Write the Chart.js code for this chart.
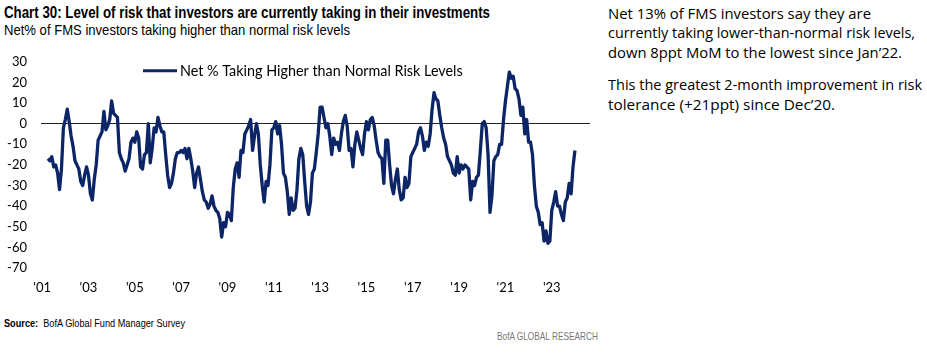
<!DOCTYPE html>
<html>
<head>
<meta charset="utf-8">
<script src="https://cdn.jsdelivr.net/npm/chart.js@4.4.1/dist/chart.umd.min.js"></script>
<style>
  body { margin: 0; width: 927px; height: 353px; background: #fff; position: relative; overflow: hidden; }
  .t { position: absolute; white-space: nowrap; transform-origin: 0 0; line-height: 1; color: #000; font-family: 'Liberation Sans Narrow', 'Liberation Sans', sans-serif; }
  .note { font-family: 'Open Sans', sans-serif; font-size: 15px; }
  #wrap { position: absolute; left: 0; top: 40px; width: 600px; height: 270px; }
</style>
</head>
<body>
<div class="t" data-w="486" style="left:4px;top:4px;font-size:17px;font-weight:bold">Chart 30: Level of risk that investors are currently taking in their investments</div>
<div class="t" data-w="346" style="left:4px;top:22px;font-size:15px">Net% of FMS investors taking higher than normal risk levels</div>

<div class="t note" data-w="263" style="left:608px;top:6px">Net 13% of FMS investors say they are</div>
<div class="t note" data-w="307" style="left:608px;top:25px">currently taking lower-than-normal risk levels,</div>
<div class="t note" data-w="294" style="left:608px;top:45px">down 8ppt MoM to the lowest since Jan’22.</div>
<div class="t note" data-w="314" style="left:608px;top:77px">This the greatest 2-month improvement in risk</div>
<div class="t note" data-w="227" style="left:608px;top:97px">tolerance (+21ppt) since Dec’20.</div>

<div class="t" data-w="181" style="left:4px;top:318px;font-size:11px"><b>Source:</b>&nbsp; BofA Global Fund Manager Survey</div>
<div class="t" data-w="101" style="left:497px;top:331px;font-size:11px;color:#777">BofA GLOBAL RESEARCH</div>

<div id="wrap"><canvas id="risk-chart"></canvas></div>

<script>
// monthly survey readings, first one is Apr 2001
const startYear = 2001;
const startMonth = 4;
const netPct = [
  -17, -18, -16, -21, -20, -24, -32, -22, -2,
  2, 7, 1, -6, -11, -18, -20, -22, -28, -30, -25, -21,
  -25, -34, -37, -27, -20, -8, -6, -4, 6, -3, -1, 2,
  11, 5, 4, 3, -14, -17, -19, -23, -20, -17, -9, -7,
  -9, -4, -7, -21, -22, -15, -14, 0, -19, -12, -2, -4,
  3, -1, -4, -4, -15, -25, -31, -29, -24, -17, -14, -14,
  -13, -14, -12, -17, -12, -17, -23, -31, -24, -21, -27, -33,
  -37, -38, -41, -39, -35, -40, -42, -43, -46, -55, -48, -50,
  -43, -44, -47, -31, -22, -19, -26, -13, -14, -5, -3, -1,
  2, -13, -6, 0, -5, -20, -30, -38, -28, -30, -20, -3,
  -2, 1, -5, -1, -10, -24, -26, -33, -44, -36, -42, -41,
  -32, -17, -12, -15, -28, -40, -44, -38, -24, -22, -14, -5,
  8, 8, 3, -2, 0, -6, -15, -7, -10, -9, -13, -5,
  1, 4, -1, -13, -12, -21, -10, -4, -8, -12, -15, -5,
  1, -3, 2, 3, -1, -8, -14, -16, -17, -29, -8, -8,
  -20, -30, -34, -27, -22, -32, -37, -36, -26, -31, -29, -16,
  -14, -12, -10, -4, -2, -6, -13, -9, -11, -5, 7, 15,
  12, 11, 4, -2, -7, -10, -16, -18, -20, -24, -25, -16,
  -24, -20, -22, -20, -21, -22, -37, -28, -30, -26, -25, -13,
  0, 1, -2, -15, -43, -35, -18, -16, -15, -10, -10, 2,
  11, 18, 25, 22, 23, 17, 16, 12, 4, 8, -5, 2,
  -9, -9, -15, -30, -40, -43, -49, -48, -57, -52, -58, -57,
  -42, -38, -33, -40, -40, -44, -47, -38, -36, -29, -34, -21,
  -13
];
const tickYears = [2001, 2003, 2005, 2007, 2009, 2011, 2013, 2015, 2017, 2019, 2021, 2023];
const tickLabels = ["'01", "'03", "'05", "'07", "'09", "'11", "'13", "'15", "'17", "'19", "'21", "'23"];
const seriesName = 'Net % Taking Higher than Normal Risk Levels';

// months as decimal years
const months = netPct.map((v, i) => startYear + (startMonth - 1 + i) / 12);
const points = netPct.map((v, i) => ({ x: months[i], y: v }));

const navy = '#0c2566';
const tickFont = { family: 'Lato', size: 13 };

// squeeze the html text to the widths in the original
document.querySelectorAll('.t[data-w]').forEach(el => {
  const w = el.getBoundingClientRect().width;
  el.style.transform = 'scaleX(' + (el.dataset.w / w) + ')';
});

// legend sits inside the plot
const insideLegend = {
  id: 'insideLegend',
  afterDatasetsDraw(chart) {
    const { ctx, chartArea } = chart;
    const y = chartArea.top + 9;
    const x = chartArea.left + 102;
    ctx.save();
    ctx.strokeStyle = navy;
    ctx.lineWidth = 3;
    ctx.beginPath();
    ctx.moveTo(x, y);
    ctx.lineTo(x + 34, y);
    ctx.stroke();
    ctx.font = '14px Lato';
    const w = ctx.measureText(seriesName).width;
    ctx.font = (14 * 283 / w).toFixed(2) + 'px Lato';
    ctx.fillStyle = '#000';
    ctx.textBaseline = 'middle';
    ctx.fillText(seriesName, x + 37, y + 1);
    ctx.restore();
  }
};

const ctx = document.getElementById('risk-chart').getContext('2d');

const riskChart = new Chart(ctx, {
  type: 'line',
  data: {
    datasets: [{
      label: seriesName,
      data: points,
      borderColor: navy,
      borderWidth: 3.3,
      pointRadius: 0,
      tension: 0,
      borderJoinStyle: 'round'
    }]
  },
  options: {
    responsive: true,
    maintainAspectRatio: false,
    animation: false,
    layout: { padding: { top: 11, right: 10, left: 0, bottom: 0 } },
    plugins: {
      legend: { display: false },
      tooltip: { enabled: false }
    },
    scales: {
      x: {
        type: 'linear',
        min: 2000.95,
        max: 2024.65,
        afterBuildTicks: s => { s.ticks = tickYears.map(v => ({ value: v })); },
        afterFit: s => { s.height = 42; },
        ticks: {
          callback: v => tickLabels[tickYears.indexOf(v)],
          font: tickFont,
          color: '#000',
          padding: 12,
          autoSkip: false,
          maxRotation: 0
        },
        grid: { display: false, drawTicks: false },
        border: { display: false }
      },
      y: {
        min: -70,
        max: 30,
        afterFit: s => { s.width = 41; },
        ticks: {
          stepSize: 10,
          font: tickFont,
          color: '#000',
          padding: 14
        },
        grid: {
          drawTicks: false,
          lineWidth: 1,
          color: c => (c.tick && c.tick.value === 0 ? '#222' : 'rgba(0,0,0,0)')
        },
        border: { display: false }
      }
    }
  },
  plugins: [insideLegend]
});
</script>
</body>
</html>
